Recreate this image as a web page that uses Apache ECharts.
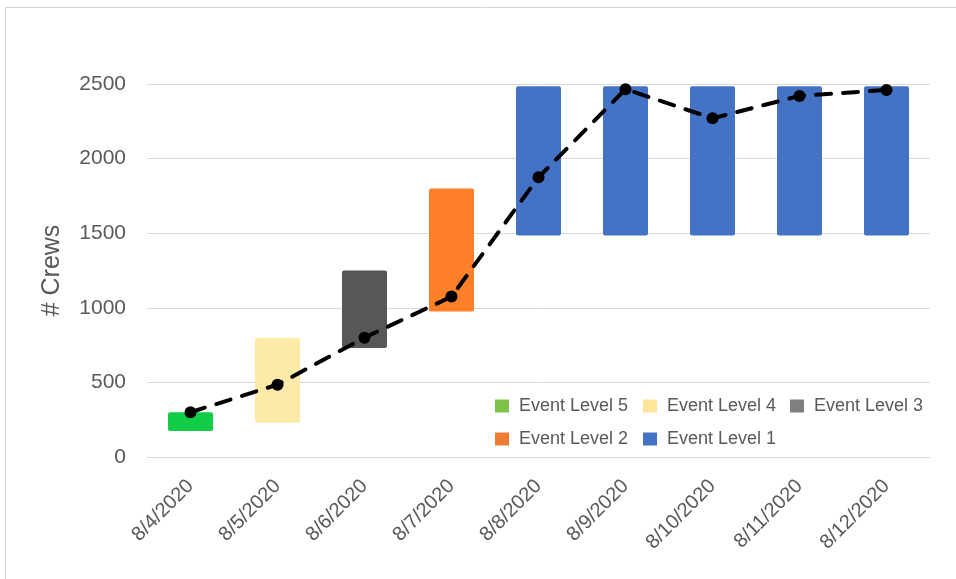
<!DOCTYPE html>
<html>
<head>
<meta charset="utf-8">
<title># Crews by Event Level</title>
<script src="https://cdn.jsdelivr.net/npm/echarts@6/dist/echarts.min.js"></script>
<style>
  html, body { margin: 0; padding: 0; background: #ffffff; }
  #chart { width: 956px; height: 579px; }
</style>
</head>
<body>
<div id="chart"></div>
<script>
// Dates on the category axis
const dates = ['8/4/2020', '8/5/2020', '8/6/2020', '8/7/2020', '8/8/2020',
               '8/9/2020', '8/10/2020', '8/11/2020', '8/12/2020'];
// Event level in effect on each date
const eventLevel = [5, 4, 3, 2, 1, 1, 1, 1, 1];
// Planned crew range per date (floating bar bottom / top)
const rangeLow  = [175, 230, 730, 975, 1485, 1485, 1485, 1485, 1485];
const rangeHigh = [300, 800, 1250, 1800, 2485, 2485, 2485, 2485, 2485];
// Actual crews on hand
const crews = [300, 485, 800, 1075, 1875, 2465, 2270, 2420, 2460];
// Legend order and y-axis ticks
const levelNames = ['Event Level 5', 'Event Level 4', 'Event Level 3', 'Event Level 2', 'Event Level 1'];
const levelOfName = [5, 4, 3, 2, 1];
const yTicks = [0, 500, 1000, 1500, 2000, 2500];

// Bar fills and legend swatch fills per level
const barColor = { 5: '#12cc45', 4: '#fde9a8', 3: '#575757', 2: '#fd7f27', 1: '#4472c4' };
const swatchColor = { 5: '#7dc246', 4: '#ffe49a', 3: '#7f7f7f', 2: '#ee7d33', 1: '#4472c4' };

const FONT = '"Liberation Sans", Arial, sans-serif';
const TEXT = '#595959';
const GRID = '#d9d9d9';

const chart = echarts.init(document.getElementById('chart'), null, { renderer: 'canvas' });

// Transparent base that lifts each range bar to its low value
const series = [{
  name: 'base',
  type: 'bar',
  stack: 'range',
  barWidth: 45,
  silent: true,
  itemStyle: { color: 'transparent' },
  data: rangeLow
}];

// One stacked series per event level, holding only that level's dates
levelNames.forEach((name, i) => {
  const lvl = levelOfName[i];
  series.push({
    name: name,
    type: 'bar',
    stack: 'range',
    barWidth: 45,
    itemStyle: { color: barColor[lvl], borderRadius: 2 },
    data: dates.map((d, k) => eventLevel[k] === lvl ? rangeHigh[k] - rangeLow[k] : '-')
  });
});

series.push({
  name: 'Crews',
  type: 'line',
  data: crews,
  z: 5,
  symbol: 'circle',
  symbolSize: 12,
  itemStyle: { color: '#000000' },
  lineStyle: { color: '#000000', width: 4, type: [15, 12], cap: 'round' }
});

// Legend laid out as two rows inside the plot, one component per entry
const legendPos = [[495, 397], [643, 397], [790, 397], [495, 430], [643, 430]];
const legends = levelNames.map((name, i) => ({
  show: true,
  left: legendPos[i][0],
  top: legendPos[i][1],
  padding: 0,
  icon: 'rect',
  itemWidth: 14,
  itemHeight: 13,
  itemGap: 0,
  selectedMode: false,
  textStyle: { color: TEXT, fontSize: 18, fontFamily: FONT, padding: [0, 0, 0, 5] },
  data: [{ name: name, itemStyle: { color: swatchColor[levelOfName[i]] } }]
}));

chart.setOption({
  animation: false,
  backgroundColor: '#ffffff',
  graphic: [{
    type: 'rect',
    shape: { x: 5.5, y: 7.5, width: 1200, height: 1200 },
    style: { fill: 'none', stroke: '#d4d4d4', lineWidth: 1 },
    silent: true
  }],
  grid: { left: 147, right: 26, top: 84, bottom: 122, containLabel: false },
  legend: legends,
  xAxis: {
    type: 'category',
    data: dates,
    axisLine: { show: true, lineStyle: { color: GRID, width: 1 } },
    axisTick: { show: false },
    axisLabel: {
      rotate: 45,
      margin: 26,
      color: TEXT,
      fontSize: 20,
      fontFamily: FONT
    }
  },
  yAxis: {
    type: 'value',
    min: yTicks[0],
    max: yTicks[yTicks.length - 1],
    interval: yTicks[1] - yTicks[0],
    name: '# Crews',
    nameLocation: 'middle',
    nameRotate: 90,
    nameGap: 82,
    nameTextStyle: { color: TEXT, fontSize: 25, fontFamily: FONT },
    axisLine: { show: false },
    axisTick: { show: false },
    splitLine: { lineStyle: { color: GRID, width: 1 } },
    axisLabel: {
      color: TEXT, fontSize: 21, fontFamily: FONT, margin: 21,
      formatter: v => String(v)
    }
  },
  series: series
});
</script>
</body>
</html>
